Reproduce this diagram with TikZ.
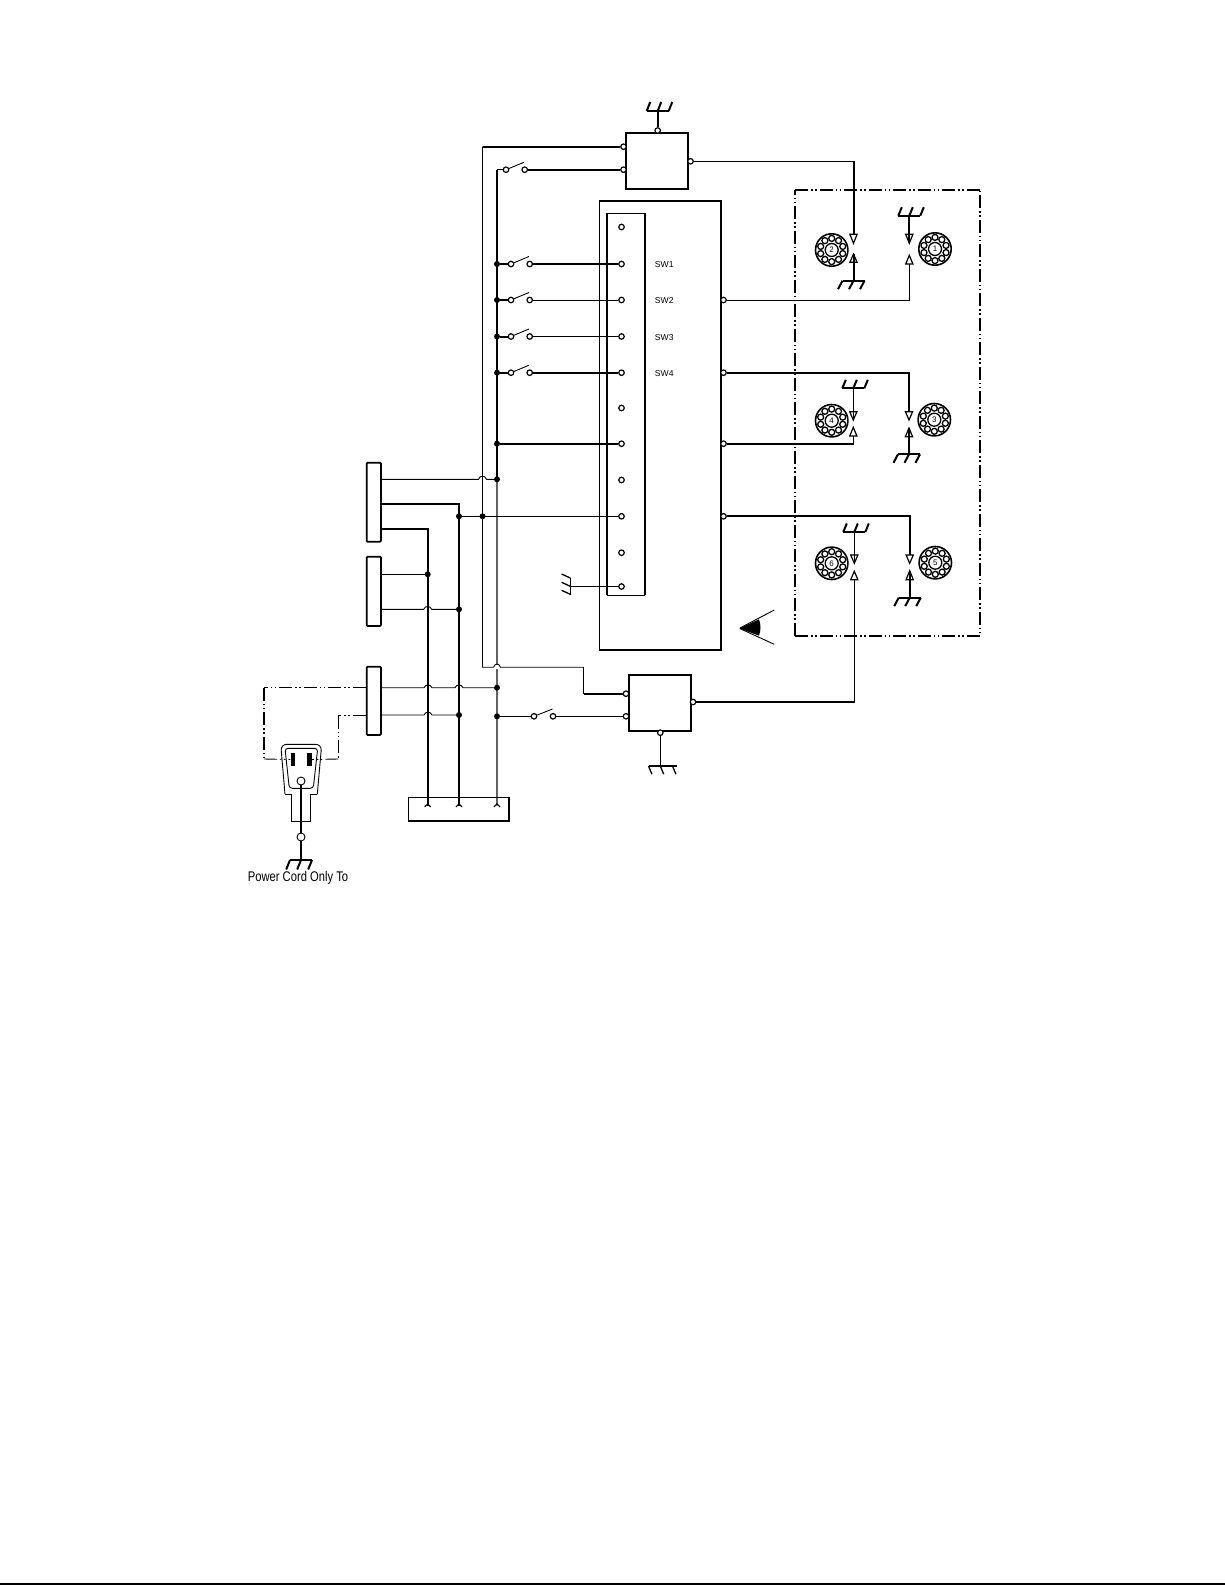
\documentclass[tikz,border=0pt]{standalone}
\usepackage{fontspec}
\setmainfont{Liberation Sans}
\newfontfamily\cordfont[FakeStretch=0.8]{Liberation Sans}
\usetikzlibrary{calc, positioning}
\tikzset{
	wthin/.style={line width=0.9pt},
	wthick/.style={line width=2pt},
	term/.style={circle,draw,fill=white,line width=1.2pt,minimum size=5.5pt,inner sep=0pt},
	junc/.style={circle,fill=black,minimum size=6pt,inner sep=0pt},
	ctlbox/.style={draw,line width=1.9pt,minimum width=62pt,minimum height=56pt,inner sep=0pt},
	conbox/.style={draw,line width=1.8pt,rounded corners=1pt,minimum width=14.3pt,inner sep=0pt},
	dashdot/.style={dash pattern=on 13pt off 3pt on 1.5pt off 2.5pt on 1.5pt off 3pt},
	swlabel/.style={anchor=west,inner sep=0pt,font=\fontsize{8.6}{10}\selectfont},
	gnd/.pic={
		\draw (-11,0) -- (11,0);
		\foreach \tx in {-11,0,11} \draw (\tx,0) -- ++(#1);
	},
	tri/.pic={
		\draw[line width=1.2pt,line join=miter] (0,0) -- (-3.6,#1) -- (3.6,#1) -- cycle;
	},
}
\begin{document}
\begin{tikzpicture}[x=1pt,y=-1pt]
	\useasboundingbox (0,0) rectangle (1225,1585);
	\draw[line width=1.3pt] (0,1584) -- (1225,1584);

	% control boxes
	\node[ctlbox] (ctlTop) at (656.8,160.7) {};
	\node[ctlbox] (ctlBot) at (659.6,702.8) {};
	\node[term] (ctlTopG) at (657.7,130.5) {};
	\node[term] (ctlTopA) at (623.5,146.7) {};
	\node[term] (ctlTopB) at (623.5,169.7) {};
	\node[term] (ctlTopO) at (690.5,161.3) {};
	\node[term] (ctlBotA) at (626,693.7) {};
	\node[term] (ctlBotB) at (626,716.3) {};
	\node[term] (ctlBotO) at (693,702) {};
	\node[term] (ctlBotG) at (660.3,732.7) {};

	% main board
	\draw[wthin] (599.3,650) -- (599.3,201);
	\draw[wthick] (599.3,201) -- (721,201) -- (721,650) -- (599.3,650);
	\draw[wthick] (607,595.3) -- (607,213.3);
	\draw[wthin] (607,213.3) -- (645,213.3) (607,595.3) -- (645,595.3);
	\draw[wthick] (645,213.3) -- (645,595.3);
	\foreach \tn/\ty in {1/227,2/264,3/300,4/336.5,5/372.7,6/408,7/443.7,8/480,9/516.3,10/552.7,11/586.5}
		\node[term] (tin\tn) at (621.5,\ty) {};
	\foreach \tn/\ty in {1/300,2/372.7,3/443.7,4/516.3}
		\node[term] (tout\tn) at (723.5,\ty) {};
	\node[swlabel] (labSWa) at (654.7,265) {SW1};
	\node[swlabel] (labSWb) at (654.7,301) {SW2};
	\node[swlabel] (labSWc) at (654.7,337.3) {SW3};
	\node[swlabel] (labSWd) at (654.7,373.5) {SW4};

	% bus wires
	\coordinate (busTop) at (497,169.7);
	\coordinate (busMid) at (497,480);
	\coordinate (busEnd) at (497,805);
	\draw[line width=1.7pt] (busTop) -- (busMid);
	\draw[line width=2pt,black!62] (busMid) -- (497,665);
	\draw[line width=2pt,black!62] (497,669) -- (busEnd);
	\foreach \sn/\ty in {a/264,b/300,c/336.5,d/372.7} {
		\node[junc] (dot\sn) at (497,\ty) {};
		\node[term] (swl\sn) at (511,\ty) {};
		\node[term] (swr\sn) at (529.7,\ty) {};
		\draw[wthin] (swl\sn) -- (529,\ty-7.5);
		\draw[wthick] (dot\sn) -- (swl\sn);
	}
	\draw[wthick] (swra) -- (tin2);
	\draw[wthin] (swrb) -- (tin3);
	\draw[wthin] (swrc) -- (tin4);
	\draw[wthick] (swrd) -- (tin5);
	\node[junc] (dotPow) at (497,443.7) {};
	\draw[wthick] (dotPow) -- (tin7);

	% switch at top box
	\node[term] (swlTop) at (506,169.7) {};
	\node[term] (swrTop) at (524.7,169.7) {};
	\draw[wthin] (swlTop) -- (524,162.3);
	\draw[wthin] (busTop) -- (swlTop);
	\draw[wthick] (swrTop) -- (ctlTopB);
	\coordinate (gTop) at (657.7,111);
	\draw[wthick] (gTop) -- (ctlTopG);
	\pic[wthick] at (gTop) {gnd={3.5,-9}};

	% return wire
	\coordinate (retA) at (482.5,146.7);
	\coordinate (retB) at (482.5,667.2);
	\coordinate (retC) at (583.7,667.2);
	\coordinate (retD) at (583.7,693.7);
	\draw[wthick] (ctlTopA) -- (retA);
	\draw[wthin] (retA) -- (retB) -- (493.5,667.2) .. controls (495,663) and (499,663) .. (500.5,667.2) -- (retC);
	\draw[wthin] (retC) -- (retD);
	\draw[wthick] (retD) -- (ctlBotA);

	% connectors
	\node[conbox,minimum height=79pt] (conA) at (373.8,502.2) {};
	\node[conbox,minimum height=69.3pt] (conB) at (373.8,591.3) {};
	\node[conbox,minimum height=68.3pt] (conC) at (373.8,700.8) {};
	\node[draw,wthin,minimum width=100.3pt,minimum height=23.7pt,inner sep=0pt] (conBot) at (458.8,809.1) {};
	\draw[line width=1.9pt] (conBot.north east) -- (conBot.south east) -- (conBot.south west);

	\node[junc] (dotA) at (497,479.3) {};
	\node[junc] (dotB) at (459,516.3) {};
	\node[junc] (dotC) at (482.5,516.3) {};
	\node[junc] (dotD) at (427.7,574.3) {};
	\node[junc] (dotE) at (459,609.3) {};
	\node[junc] (dotF) at (497,687.7) {};
	\node[junc] (dotG) at (459,715) {};
	\node[junc] (dotH) at (497,716.3) {};

	\draw[wthin] (conA.east |- dotA) -- (478.5,479.3) .. controls (480,475) and (485,475) .. (486.5,479.3) -- (dotA);
	\draw[wthin] (dotB) -- (tin9);
	\coordinate (hiA) at (459,504.3);
	\coordinate (loA) at (427.7,529);
	\draw[wthick] (conA.east |- hiA) -- (hiA) -- (459,806);
	\draw[wthick] (conA.east |- loA) -- (loA) -- (427.7,806);
	\draw[wthin] (conB.east |- dotD) -- (dotD);
	\draw[wthin] (conB.east |- dotE) -- (423.7,609.3) .. controls (425.2,605.5) and (430.2,605.5) .. (431.7,609.3) -- (dotE);
	\draw[wthin] (conC.east |- dotF) -- (424,687.7) .. controls (425.5,684) and (430.5,684) .. (432,687.7)
		-- (455,687.7) .. controls (456.5,684) and (461.5,684) .. (463,687.7) -- (dotF);
	\draw[wthin] (conC.east |- dotG) -- (424,715) .. controls (425.5,711.2) and (430.5,711.2) .. (432,715) -- (dotG);

	% little forks on the terminal block
	\foreach \bx in {427.7,459,497}
		\draw[line width=1.2pt] (\bx-3,806.8) -- (\bx,804) -- (\bx+3,806.8);

	% lower switch
	\node[term] (swlBot) at (534,716.3) {};
	\node[term] (swrBot) at (553,716.3) {};
	\draw[wthin] (swlBot) -- (552.5,709);
	\draw[wthin] (dotH) -- (swlBot);
	\draw[wthin] (swrBot) -- (ctlBotB);
	\coordinate (gBot) at (660.3,766);
	\draw[wthin] (ctlBotG) -- (gBot);
	\draw[line width=1.3pt] (648.5,766) -- (676.5,766);
	\foreach \tx in {648.5,660.3,672.5} \draw[line width=1.3pt] (\tx,766) -- ++(3.4,8.2);

	% ground at the board
	\coordinate (gBoard) at (570.3,586.5);
	\draw[wthin] (gBoard) -- (tin11);
	\draw[line width=1.3pt] (570.3,577.7) -- (570.3,594.5);
	\foreach \ty in {578,586.3,594.3} \draw[line width=1.3pt] (570.3,\ty) -- ++(-8.7,-4);

	% lamp block
	\draw[line width=1.9pt,dashdot] (795,635.7) -- (980,635.7) -- (980,190);
	\draw[line width=1.9pt,dashdot] (795,635.7) -- (795,190);
	\draw[line width=1.1pt,dashdot] (795,190) -- (980,190);
	\foreach \bn/\bx/\by in {1/935/249,2/831.7/250,3/934.3/419.7,4/831.7/420.7,5/935.3/562.7,6/831.7/563.3} {
		\node[circle,draw,line width=1.3pt,minimum size=13pt,inner sep=0pt,font=\fontsize{8}{9}\selectfont] (lamp\bn) at (\bx,\by) {\bn};
		\draw[line width=1.6pt] (\bx,\by) circle (16.2);
		\foreach \ang in {0,36,...,324}
			\draw[line width=1.3pt] ($(\bx,\by)+(\ang+18:11.6)$) circle (3);
	}

	% wires into the lamps
	\coordinate (lt2a) at (853.5,234.3);
	\draw[wthin] (ctlTopO) -- (853.5,161.3);
	\draw[wthick] (853.5,160.8) -- (lt2a);
	\pic at (853.5,243.3) {tri=-9};
	\coordinate (g2) at (853.5,280.7);
	\draw[wthick] (g2) -- (853.5,254);
	\pic at (853.5,254) {tri=8.3};
	\pic[wthick] at (g2) {gnd={-4.5,8.5}};

	\coordinate (g1) at (909.3,215.7);
	\draw[wthick] (g1) -- (909.3,243.3);
	\pic at (909.3,243.3) {tri=-9};
	\pic[wthick] at (g1) {gnd={3.5,-8.5}};
	\pic at (909.3,255.3) {tri=8.7};
	\draw[wthin] (tout1) -- (909.3,300) -- (909.3,264);

	\coordinate (g4) at (853.3,388.3);
	\draw[wthin] (g4) -- (853.3,420);
	\pic at (853.3,420) {tri=-8.3};
	\pic[wthick] at (g4) {gnd={3.5,-8.5}};
	\pic at (853.3,427.3) {tri=8.7};
	\draw[wthick] (tout3) -- (854.3,443.7);
	\draw[wthin] (853.3,443.7) -- (853.3,436);

	\draw[wthick] (tout2) -- (909,372.7) -- (909,411.7);
	\pic at (909,420) {tri=-8.3};
	\coordinate (g3) at (909,454.3);
	\draw[wthick] (g3) -- (909,428);
	\pic at (909,428) {tri=8.7};
	\pic[wthick] at (g3) {gnd={-4.5,8.5}};

	\draw[wthick] (tout4) -- (909.7,516.3) -- (909.7,555);
	\pic at (909.7,563.3) {tri=-8.3};
	\coordinate (g5) at (909.7,597.7);
	\draw[wthick] (g5) -- (909.7,570.7);
	\pic at (909.7,570.7) {tri=9};
	\pic[wthick] at (g5) {gnd={-4.5,8.5}};

	\coordinate (g6) at (854.3,532);
	\draw[wthin] (g6) -- (854.3,563.3);
	\pic at (854.3,563.3) {tri=-8.3};
	\pic[wthick] at (g6) {gnd={3.5,-8.5}};
	\pic at (854.3,571.3) {tri=8.4};
	\draw[wthick] (ctlBotO) -- (855.3,702);
	\draw[wthin] (854.3,702) -- (854.3,579.7);

	% eye
	\fill (739.3,628.3) -- (759,619.3) .. controls (761,625) and (761,630) .. (759,635.7) -- cycle;
	\node[inner sep=0pt] (eyeTip) at (739.3,628.3) {};
	\draw[wthin] (eyeTip) -- (774.3,610);
	\draw[wthin] (eyeTip) -- (774.3,644.3);

	% plug and cord
	\node[fill=black,minimum width=4.4pt,minimum height=12.4pt,inner sep=0pt] (prongL) at (292.8,759.5) {};
	\node[fill=black,minimum width=4.6pt,minimum height=12.4pt,inner sep=0pt] (prongR) at (309.7,759.5) {};
	\draw[wthin,rounded corners=6pt] (285,794.3) -- (280.7,744.3) -- (321.7,744.3) -- (317.3,794.3);
	\draw[wthin] (285,794.3) -- (291.7,794.3) -- (291.7,821.7) -- (310.7,821.7) -- (310.7,794.3) -- (317.3,794.3);
	\draw[wthin,rounded corners=3pt] (289.3,788.3) -- (285,748.3) -- (317.7,748.3) -- (313.3,788.3) -- cycle;
	\node[circle,draw,wthin,fill=white,minimum size=8pt,inner sep=0pt] (plugG) at (301,781) {};
	\node[circle,draw,wthin,fill=white,minimum size=8pt,inner sep=0pt] (cordG) at (301,837) {};
	\coordinate (gPlug) at (301,860);
	\draw[wthick] (plugG) -- (cordG);
	\draw[wthick] (cordG) -- (gPlug);
	\pic[wthick] at (gPlug) {gnd={-3.8,9.5}};
	\node[inner sep=0pt,font=\cordfont\fontsize{14}{16}\selectfont] (cordLabel) at (298,877.7) {Power Cord Only To};

	\coordinate (dda) at (264,687.7);
	\coordinate (ddb) at (264,759);
	\coordinate (ddc) at (338.3,715.7);
	\coordinate (ddd) at (338.3,759);
	\draw[wthin,dashdot] (conC.west |- dda) -- (dda);
	\draw[line width=1.6pt,dashdot] (dda) -- (ddb);
	\draw[wthin,dashdot] (ddb) -- (prongL);
	\draw[wthin,dashdot] (conC.west |- ddc) -- (ddc);
	\draw[line width=1.6pt,dashdot] (ddc) -- (ddd);
	\draw[wthin,dashdot] (ddd) -- (prongR);
\end{tikzpicture}
\end{document}
